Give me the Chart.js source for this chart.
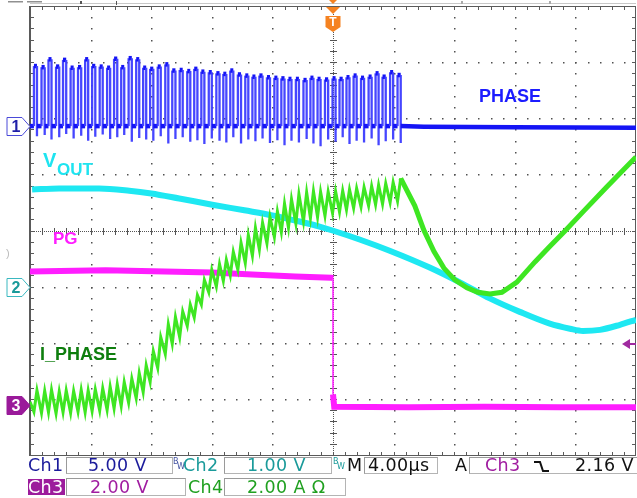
<!DOCTYPE html>
<html><head><meta charset="utf-8">
<script src="https://cdn.jsdelivr.net/npm/chart.js@4"></script>
<style>
html,body{margin:0;padding:0;background:#fff;}
#wrap{position:relative;width:637px;height:498px;overflow:hidden;background:#fff;}
#c{position:absolute;left:0;top:0;}
.st{position:absolute;font-family:"DejaVu Sans",sans-serif;font-size:17.5px;white-space:nowrap;line-height:17px;letter-spacing:0.4px;}
.box{position:absolute;border:1px solid #b4b4b4;border-top-color:#9a9a9a;border-left-color:#9a9a9a;background:#fff;box-sizing:border-box;}
.bw{position:absolute;font-family:"DejaVu Sans",sans-serif;font-size:8px;line-height:8px;}
</style></head><body>
<div id="wrap">
<canvas id="c" width="637" height="498"></canvas>
<!-- status bar row 1 -->
<div class="box" style="left:66px;top:457px;width:107px;height:17px"></div>
<div class="box" style="left:224px;top:457px;width:108px;height:17px"></div>
<div class="box" style="left:364px;top:457px;width:74px;height:17px"></div>
<div class="box" style="left:469px;top:457px;width:175px;height:17px"></div>
<div class="st" style="left:28px;top:457px;color:#1b1b9b">Ch1</div>
<div class="st" style="left:88px;top:457px;color:#1b1b9b">5.00 V</div>
<div class="bw" style="left:173px;top:458px;color:#4050a0">B</div><div class="bw" style="left:177px;top:463px;color:#4050a0">W</div>
<div class="st" style="left:183px;top:457px;color:#1a9a9a">Ch2</div>
<div class="st" style="left:247px;top:457px;color:#1a9a9a">1.00 V</div>
<div class="bw" style="left:333px;top:458px;color:#1a9a9a">B</div><div class="bw" style="left:337px;top:463px;color:#1a9a9a">W</div>
<div class="st" style="left:347px;top:457px;color:#111">M</div>
<div class="st" style="left:368px;top:457px;color:#111">4.00µs</div>
<div class="st" style="left:455px;top:457px;color:#111">A</div>
<div class="st" style="left:485px;top:457px;color:#a01ca0">Ch3</div>
<svg style="position:absolute;left:532px;top:459px" width="20" height="14"><polyline points="2,3 8,3 11,12 17,12" fill="none" stroke="#111" stroke-width="2"/></svg>
<div class="st" style="left:575px;top:457px;color:#111">2.16 V</div>
<!-- status bar row 2 -->
<div class="box" style="left:66px;top:478px;width:120px;height:18px"></div>
<div class="box" style="left:224px;top:478px;width:122px;height:18px"></div>
<div class="st" style="left:28px;top:479px;width:37px;height:16px;background:#9c1c9c;color:#fff">Ch3</div>
<div class="st" style="left:90px;top:479px;color:#a01ca0">2.00 V</div>
<div class="st" style="left:188px;top:479px;color:#20a020">Ch4</div>
<div class="st" style="left:247px;top:479px;color:#20a020">2.00 A Ω</div>
</div>
<script>
// ---- axis ranges (time in µs, vertical in graticule divisions) ----
const timeMin = -20, timeMax = 20, divMin = 0, divMax = 8;

// ---- Ch1 PHASE: switching pulses ----
const pulseOn  = [-19.74,-19.24,-18.78,-18.28,-17.82,-17.32,-16.83,-16.36,-15.90,-15.40,-14.91,-14.45,-13.98,-13.49,-12.99,-12.53,-12.07,-11.57,-11.07,-10.61,-10.12,-9.62,-9.16,-8.69,-8.20,-7.70,-7.24,-6.78,-6.28,-5.79,-5.32,-4.86,-4.36,-3.87,-3.41,-2.94,-2.45,-1.95,-1.49,-1.02,-0.53,-0.03,0.43,0.89,1.36,1.85,2.35,2.81,3.27,3.77,4.26];
const pulseOff = [-19.54,-19.03,-18.58,-18.07,-17.61,-17.12,-16.62,-16.16,-15.69,-15.20,-14.71,-14.24,-13.78,-13.28,-12.79,-12.33,-11.86,-11.37,-10.87,-10.40,-9.92,-9.42,-8.95,-8.49,-8.00,-7.49,-7.04,-6.58,-6.07,-5.59,-5.12,-4.65,-4.16,-3.67,-3.20,-2.74,-2.25,-1.74,-1.29,-0.82,-0.32,0.17,0.64,1.09,1.56,2.05,2.55,3.01,3.48,3.97,4.47];
const pulseTop = [6.93,6.91,7.05,6.92,7.04,6.90,6.91,7.05,6.93,6.92,6.90,7.06,6.91,7.07,7.05,6.90,6.88,6.92,6.96,6.85,6.86,6.84,6.88,6.83,6.82,6.80,6.79,6.85,6.78,6.76,6.74,6.76,6.73,6.72,6.71,6.70,6.70,6.68,6.72,6.70,6.69,6.71,6.70,6.73,6.76,6.72,6.74,6.80,6.74,6.82,6.77];
const pulseDip = [5.68,5.70,5.62,5.66,5.72,5.64,5.69,5.60,5.67,5.71,5.63,5.66,5.70,5.58,5.65,5.62,5.60,5.68,5.55,5.63,5.66,5.58,5.61,5.54,5.64,5.60,5.57,5.66,5.55,5.62,5.59,5.64,5.56,5.61,5.52,5.60,5.57,5.63,5.55,5.50,5.62,5.58,5.66,5.54,5.60,5.57,5.64,5.52,5.59,5.62,5.56];
const phaseLow = 5.86;
const phaseTailT = [6.0, 12.0, 20.0];
const phaseTailV = [5.85, 5.84, 5.83];

// ---- Ch4 I_PHASE: ripple valleys (at pulseOn) / peaks (at pulseOff), then free decay ----
const iStart = 0.95;
const iLow  = [0.77,0.75,0.76,0.74,0.76,0.75,0.77,0.76,0.78,0.79,0.80,0.83,0.87,0.93,1.01,1.12,1.30,1.55,1.80,1.98,2.10,2.30,2.45,2.68,2.90,3.00,3.10,3.20,3.30,3.42,3.55,3.66,3.77,3.88,3.97,4.05,4.12,4.16,4.22,4.24,4.26,4.31,4.33,4.37,4.40,4.42,4.44,4.46,4.47,4.50,4.52];
const iHigh = [1.15,1.14,1.16,1.13,1.15,1.14,1.16,1.15,1.17,1.19,1.22,1.26,1.30,1.36,1.46,1.60,1.85,2.10,2.33,2.46,2.56,2.68,2.85,3.12,3.30,3.40,3.48,3.62,3.78,3.92,4.05,4.14,4.24,4.34,4.48,4.56,4.65,4.68,4.70,4.69,4.69,4.70,4.71,4.73,4.75,4.77,4.79,4.81,4.84,4.86,4.93];
const iPostT = [5.40,5.99,6.66,7.32,8.04,8.84,9.56,10.36,11.15,12.14,13.33,14.32,15.31,16.56,18.08,20.0];
const iPostV = [4.44,4.01,3.63,3.33,3.12,2.98,2.90,2.87,2.90,3.08,3.44,3.72,3.99,4.35,4.78,5.31];

// ---- Ch2 VOUT ----
const voutT = [-19.86,-18.08,-15.44,-13.45,-12.00,-10.15,-7.97,-5.85,-4.00,-2.21,-0.89,-0.03,1.75,3.74,6.38,8.56,10.35,12.33,14.31,15.64,16.50,17.62,18.94,20.0];
const voutV = [4.73,4.75,4.75,4.71,4.66,4.57,4.46,4.36,4.27,4.16,4.07,4.00,3.84,3.64,3.34,3.05,2.79,2.55,2.34,2.25,2.21,2.23,2.32,2.41];

// ---- Ch3 PG ----
const pgT = [-20.0,-15.0,-8.0,-5.0,-2.5,-0.10,0.0,0.0,0.08,5.0,10.0,15.0,20.0];
const pgV = [3.27,3.29,3.25,3.21,3.18,3.16,3.15,1.08,0.86,0.85,0.86,0.85,0.85];

// ---- build point tables ----
const phasePts = [{x: timeMin, y: phaseLow}];
pulseOn.forEach((t, i) => {
  phasePts.push({x: t, y: phaseLow}, {x: t, y: pulseTop[i]}, {x: pulseOff[i], y: pulseTop[i]},
                {x: pulseOff[i], y: pulseDip[i]}, {x: pulseOff[i], y: phaseLow});
});
phaseTailT.forEach((t, i) => phasePts.push({x: t, y: phaseTailV[i]}));

const iPts = [{x: timeMin, y: iStart}];
pulseOn.forEach((t, i) => { iPts.push({x: t, y: iLow[i]}, {x: pulseOff[i], y: iHigh[i]}); });
iPostT.forEach((t, i) => iPts.push({x: t, y: iPostV[i]}));

const voutPts = voutT.map((t, i) => ({x: t, y: voutV[i]}));
const pgPts = pgT.map((t, i) => ({x: t, y: pgV[i]}));

const isVert = c => c.p0.parsed.x === c.p1.parsed.x;

// ---- graticule, markers, labels ----
const scope = {
  id: 'scope',
  beforeDatasetsDraw(chart) {
    const {ctx, chartArea: a, scales: {x, y}} = chart;
    const X = v => x.getPixelForValue(v), Y = v => y.getPixelForValue(v);
    const xStep = (timeMax - timeMin) / 10, nx = 10, ny = 8;
    ctx.save();
    // top ruler
    ctx.fillStyle = '#c8c8c8';
    ctx.fillRect(a.left, 3, a.right - a.left, 1);
    ctx.fillStyle = '#909090';
    ctx.fillRect(8, 1, 15, 1.5); ctx.fillRect(27, 1, 15, 1.5);
    ctx.fillStyle = '#555';
    ctx.fillRect(80, 1, 2, 3); ctx.fillRect(116, 1, 1, 4);
    ctx.fillStyle = '#aaa';
    ctx.fillRect(461, 1, 2, 3); ctx.fillRect(549, 1, 2, 3);
    // major grid dots
    ctx.fillStyle = '#505050';
    for (let d = 1; d < nx; d++) {
      if (d === nx / 2) continue;
      const px = Math.round(X(timeMin + d * xStep));
      for (let k = 1; k < ny * 5; k++) ctx.fillRect(px, Math.round(Y(k / 5)), 1.5, 1.5);
    }
    for (let d = 1; d < ny; d++) {
      if (d === ny / 2) continue;
      const py = Math.round(Y(d));
      for (let k = 1; k < nx * 5; k++) ctx.fillRect(Math.round(X(timeMin + k * xStep / 5)), py, 1.5, 1.5);
    }
    // centre cross with ticks
    const cx = Math.round(X((timeMin + timeMax) / 2)), cy = Math.round(Y((divMin + divMax) / 2));
    ctx.fillStyle = '#555';
    for (let px = Math.round(a.left); px < a.right; px += 2) ctx.fillRect(px, cy, 1, 1);
    for (let py = Math.round(a.top); py < a.bottom; py += 2) ctx.fillRect(cx, py, 1, 1);
    for (let k = 1; k < nx * 5; k++) ctx.fillRect(Math.round(X(timeMin + k * xStep / 5)), cy - 3, 1, 7);
    for (let k = 1; k < ny * 5; k++) ctx.fillRect(cx - 3, Math.round(Y(k / 5)), 7, 1);
    // border with ticks
    ctx.fillStyle = '#5a5a5a';
    ctx.fillRect(Math.round(a.left) - 1, a.top, 2, a.bottom - a.top + 1);
    ctx.fillRect(a.left, Math.round(a.top), a.right - a.left, 1);
    ctx.fillRect(a.left, Math.round(a.bottom), a.right - a.left, 1);
    ctx.fillRect(Math.round(a.right) - 1, a.top, 1, a.bottom - a.top);
    for (let k = 1; k < nx * 5; k++) {
      const px = Math.round(X(timeMin + k * xStep / 5));
      ctx.fillRect(px, a.top, 1, 4); ctx.fillRect(px, a.bottom - 3, 1, 4);
    }
    for (let k = 1; k < ny * 5; k++) {
      const py = Math.round(Y(k / 5));
      ctx.fillRect(a.left, py, 4, 1); ctx.fillRect(a.right - 4, py, 4, 1);
    }
    ctx.restore();
  },
  afterDatasetsDraw(chart) {
    const {ctx, scales: {x, y}} = chart;
    ctx.save();
    const F = 'Liberation Sans, Arial, sans-serif';
    ctx.textBaseline = 'alphabetic';
    ctx.font = 'bold 18px ' + F; ctx.fillStyle = '#1c1cff';
    ctx.fillText('PHASE', 479, 102);
    ctx.fillStyle = '#1ee4f0';
    ctx.font = 'bold 20px ' + F; ctx.fillText('V', 43, 167);
    ctx.font = 'bold 17px ' + F; ctx.fillText('OUT', 57, 175);
    ctx.fillStyle = '#ff1eff';
    ctx.font = 'bold 17px ' + F; ctx.fillText('PG', 53, 244);
    ctx.fillStyle = '#0e7e0e';
    ctx.font = 'bold 18px ' + F; ctx.fillText('I_PHASE', 40, 360);

    // channel ground markers (left)
    const marker = (cyv, stroke, fill, txtCol, label) => {
      ctx.beginPath();
      ctx.moveTo(7, cyv - 9); ctx.lineTo(22, cyv - 9); ctx.lineTo(30, cyv); ctx.lineTo(22, cyv + 9); ctx.lineTo(7, cyv + 9); ctx.closePath();
      ctx.fillStyle = fill; ctx.fill();
      ctx.lineWidth = 1; ctx.strokeStyle = stroke; ctx.stroke();
      ctx.fillStyle = txtCol; ctx.font = 'bold 16px ' + F; ctx.textAlign = 'center'; ctx.textBaseline = 'middle';
      ctx.fillText(label, 16, cyv + 1);
      ctx.textAlign = 'left'; ctx.textBaseline = 'alphabetic';
    };
    marker(Math.round(y.getPixelForValue(phaseLow)) + 0.5, '#4a4ad8', '#fff', '#1f1fa8', '1');
    marker(287.5, '#3ab8c0', '#fff', '#1a9a9a', '2');
    marker(405.5, '#9a1a9a', '#9a1a9a', '#fff', '3');
    ctx.fillStyle = '#bbb'; ctx.font = '11px ' + F; ctx.fillText(')', 6, 257);

    // trigger level arrow (right)
    ctx.fillStyle = '#a02aa0';
    ctx.beginPath(); ctx.moveTo(622, 344); ctx.lineTo(630, 339); ctx.lineTo(630, 349); ctx.closePath(); ctx.fill();
    ctx.fillRect(629, 343, 7, 2);

    // trigger position marker (top)
    const tx = x.getPixelForValue(0);
    ctx.fillStyle = '#f58220';
    ctx.beginPath(); ctx.moveTo(tx - 4, 0); ctx.lineTo(tx + 4, 0); ctx.lineTo(tx, 4); ctx.closePath(); ctx.fill();
    ctx.beginPath(); ctx.moveTo(tx - 7, 7); ctx.lineTo(tx + 7, 7); ctx.lineTo(tx, 14); ctx.closePath(); ctx.fill();
    ctx.beginPath(); ctx.moveTo(tx - 7.5, 16); ctx.lineTo(tx + 7.5, 16); ctx.lineTo(tx + 7.5, 27); ctx.lineTo(tx, 32); ctx.lineTo(tx - 7.5, 27); ctx.closePath(); ctx.fill();
    ctx.fillStyle = '#fff'; ctx.font = 'bold 12px ' + F; ctx.textAlign = 'center'; ctx.textBaseline = 'middle';
    ctx.fillText('T', tx, 23);
    ctx.restore();
  }
};

new Chart(document.getElementById('c'), {
  type: 'line',
  data: {
    datasets: [
      { label: 'PHASE', data: phasePts, order: 4, borderColor: '#1b1bff', borderWidth: 4, pointRadius: 0,
        borderJoinStyle: 'miter',
        segment: { borderColor: c => isVert(c) ? 'rgba(60,60,255,0.95)' : '#1414f5', borderWidth: c => isVert(c) ? 2.3 : 4.5 } },
      { label: 'VOUT', data: voutPts, order: 3, borderColor: '#1ee8f2', borderWidth: 6, pointRadius: 0, cubicInterpolationMode: 'monotone' },
      { label: 'PG', data: pgPts, order: 2, borderColor: '#ff1eff', borderWidth: 6, pointRadius: 0,
        segment: { borderWidth: c => isVert(c) ? 1.5 : 6 } },
      { label: 'I_PHASE', data: iPts, order: 1, borderColor: '#3ee622', borderWidth: 3, pointRadius: 0,
        segment: { borderWidth: c => c.p0.parsed.x >= pulseOff[pulseOff.length - 1] ? 5 : 3 } }
    ]
  },
  options: {
    responsive: false, animation: false, devicePixelRatio: 1,
    layout: { padding: { left: 30, top: 6, right: 1, bottom: 43 } },
    scales: {
      x: { type: 'linear', min: timeMin, max: timeMax, display: false },
      y: { type: 'linear', min: divMin, max: divMax, display: false }
    },
    plugins: { legend: { display: false }, tooltip: { enabled: false } },
    elements: { line: { tension: 0 } }
  },
  plugins: [scope]
});
</script>
</body></html>
